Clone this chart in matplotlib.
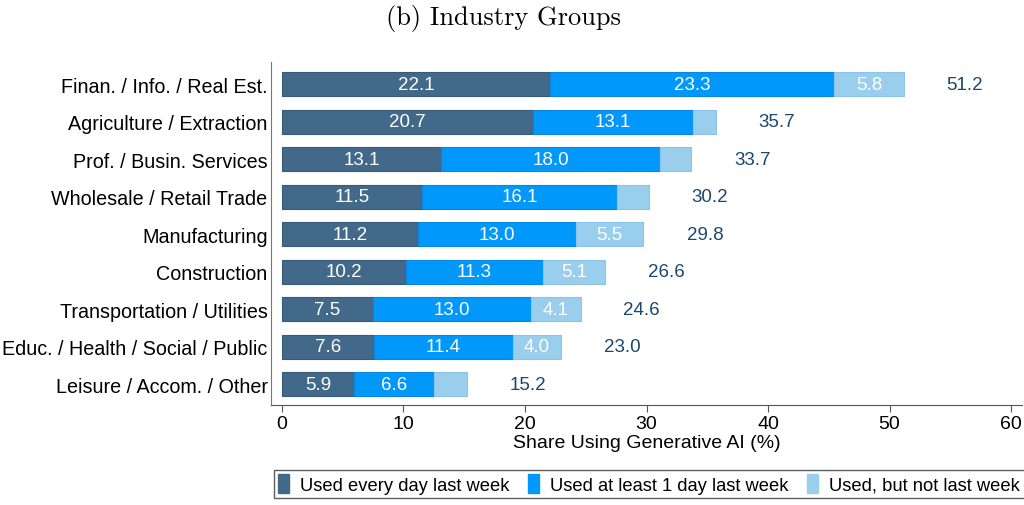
import matplotlib.pyplot as plt
from matplotlib.patches import Patch

plt.rcParams['font.family'] = ['Liberation Sans', 'DejaVu Sans']

industries = [
    "Finan. / Info. / Real Est.",
    "Agriculture / Extraction",
    "Prof. / Busin. Services",
    "Wholesale / Retail Trade",
    "Manufacturing",
    "Construction",
    "Transportation / Utilities",
    "Educ. / Health / Social / Public",
    "Leisure / Accom. / Other",
]
every_day = [22.1, 20.7, 13.1, 11.5, 11.2, 10.2, 7.5, 7.6, 5.9]
at_least_1 = [23.3, 13.1, 18.0, 16.1, 13.0, 11.3, 13.0, 11.4, 6.6]
not_last = [5.8, 1.9, 2.6, 2.6, 5.5, 5.1, 4.1, 4.0, 2.7]
totals = [51.2, 35.7, 33.7, 30.2, 29.8, 26.6, 24.6, 23.0, 15.2]
series_names = ["Used every day last week", "Used at least 1 day last week",
                "Used, but not last week"]
colors = ["#42698a", "#0098fb", "#99ceed"]
edge_colors = ["#365a78", "#0a86e0", "#8cc3e6"]

fig = plt.figure(figsize=(10.24, 5.06), dpi=100)
ax = fig.add_axes([271 / 1024, 1 - 406 / 506, 751 / 1024, 343 / 506])

y = list(range(len(industries)))
left = [0.0] * len(industries)
for vals, col, ec, name in zip([every_day, at_least_1, not_last], colors, edge_colors, series_names):
    ax.barh(y, vals, left=left, height=0.64, color=col, edgecolor=ec, linewidth=0.8, label=name)
    for i, v in enumerate(vals):
        if v >= 3.5:
            ax.text(left[i] + v / 2, i, f"{v:.1f}", ha="center", va="center",
                    color="white", fontsize=13.5)
    left = [l + v for l, v in zip(left, vals)]

# totals sit a bit right of each stacked bar
for i, t in enumerate(totals):
    ax.text(t + 3.5, i, f"{t:.1f}", ha="left", va="center",
            color="#1a476f", fontsize=13.5)

ax.set_xlim(-0.9, 60.9)
ax.set_ylim(8.56, -0.59)
ax.set_yticks(y)
ax.set_yticklabels(industries, fontsize=14.2)
ax.set_xticks([0, 10, 20, 30, 40, 50, 60])
ax.tick_params(axis='x', labelsize=14, length=5, color="#555555", pad=2)
ax.tick_params(axis='y', length=0, pad=2.5)
ax.set_xlabel("Share Using Generative AI (%)", fontsize=14, labelpad=2)
for s in ["top", "right"]:
    ax.spines[s].set_visible(False)
ax.spines["left"].set_color("#777777")
ax.spines["bottom"].set_color("#555555")

handles = [Patch(facecolor=c, edgecolor=c) for c in colors]
fig.legend(handles, series_names, loc="center", bbox_to_anchor=(0.634, 0.0415),
           ncol=3, fontsize=13.2, frameon=True, fancybox=False, edgecolor="#333333",
           handlelength=0.6, handleheight=1.2, handletextpad=0.6, columnspacing=1.0,
           borderpad=0.25)

fig.text(0.492, 1 - 18 / 506, "(b) Industry Groups", ha="center", va="center",
         fontsize=19, family="cmr10")

fig.savefig("out.png", dpi=100)
